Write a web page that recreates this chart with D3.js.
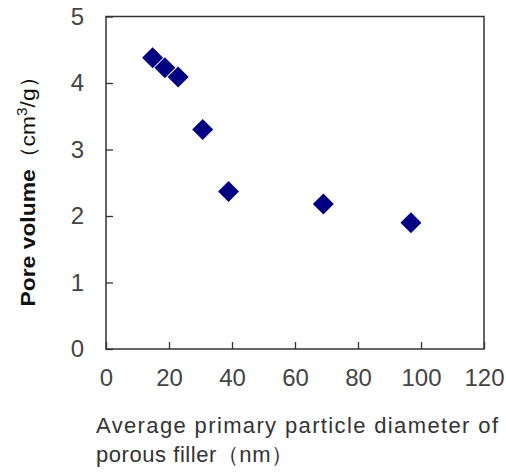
<!DOCTYPE html>
<html>
<head>
<meta charset="utf-8">
<script src="https://cdn.jsdelivr.net/npm/d3@7"></script>
<style>
  html, body { margin: 0; padding: 0; background: #fff; }
  svg { display: block; }
</style>
</head>
<body>
<svg id="chart" width="506" height="475"></svg>
<script>
const diameters = [14.8, 18.7, 22.9, 30.7, 38.9, 69.0, 96.8];
const poreVolumes = [4.38, 4.23, 4.09, 3.30, 2.37, 2.18, 1.90];
const xTicks = [0, 20, 40, 60, 80, 100, 120];
const yTicks = [0, 1, 2, 3, 4, 5];
const xTitleLines = ["Average primary particle diameter of", "porous filler（nm）"];

const svg = d3.select("#chart");
const plotL = 106, plotR = 484, plotT = 16.5, plotB = 349;
const tickFont = "'Liberation Sans Narrow', 'Liberation Sans', Arial, sans-serif";
const titleFont = "'Liberation Sans', Arial, sans-serif";

const x = d3.scaleLinear().domain([0, 120]).range([plotL, plotR]);
const y = d3.scaleLinear().domain([0, 5]).range([plotB, plotT]);

// frame
svg.append("rect")
  .attr("x", plotL).attr("y", plotT)
  .attr("width", plotR - plotL).attr("height", plotB - plotT)
  .attr("fill", "none").attr("stroke", "#333").attr("stroke-width", 1.5);

const xAxis = svg.append("g")
  .attr("transform", `translate(0,${plotB})`)
  .call(d3.axisBottom(x).tickValues(xTicks).tickFormat(d3.format("d"))
    .tickSizeInner(-7).tickSizeOuter(0).tickPadding(20));
const yAxis = svg.append("g")
  .attr("transform", `translate(${plotL},0)`)
  .call(d3.axisLeft(y).tickValues(yTicks).tickFormat(d3.format("d"))
    .tickSizeInner(-7).tickSizeOuter(0).tickPadding(22));

[xAxis, yAxis].forEach(g => {
  g.select(".domain").remove();
  g.selectAll(".tick line").attr("stroke", "#333").attr("stroke-width", 1.3);
  g.selectAll(".tick text")
    .attr("font-family", tickFont)
    .attr("font-size", 24)
    .attr("fill", "#444");
});

// points
const diamond = d3.symbol().type(d3.symbolSquare).size(220);
svg.append("g").selectAll("path")
  .data(diameters.map((d, i) => [d, poreVolumes[i]]))
  .join("path")
  .attr("d", diamond)
  .attr("transform", d => `translate(${x(d[0])},${y(d[1])}) rotate(45)`)
  .attr("fill", "#000080");

// x title
const xt = svg.append("text")
  .attr("font-family", titleFont)
  .attr("font-size", 22)
  .attr("fill", "#333");
xt.append("tspan").attr("x", 96).attr("y", 433)
  .attr("textLength", 402).attr("lengthAdjust", "spacing")
  .text(xTitleLines[0]);
xt.append("tspan").attr("x", 96).attr("y", 462)
  .attr("textLength", 197).attr("lengthAdjust", "spacing")
  .text(xTitleLines[1]);

// y title
const yt = svg.append("text")
  .attr("transform", "translate(35,186) rotate(-90)")
  .attr("text-anchor", "middle")
  .attr("font-family", titleFont)
  .attr("font-size", 21)
  .attr("fill", "#111")
  .attr("textLength", 241).attr("lengthAdjust", "spacingAndGlyphs");
yt.append("tspan").attr("font-weight", "bold").text("Pore volume");
yt.append("tspan").text("（cm");
yt.append("tspan").attr("font-size", 14).attr("dy", -8).text("3");
yt.append("tspan").attr("dy", 8).text("/g）");
</script>
</body>
</html>
